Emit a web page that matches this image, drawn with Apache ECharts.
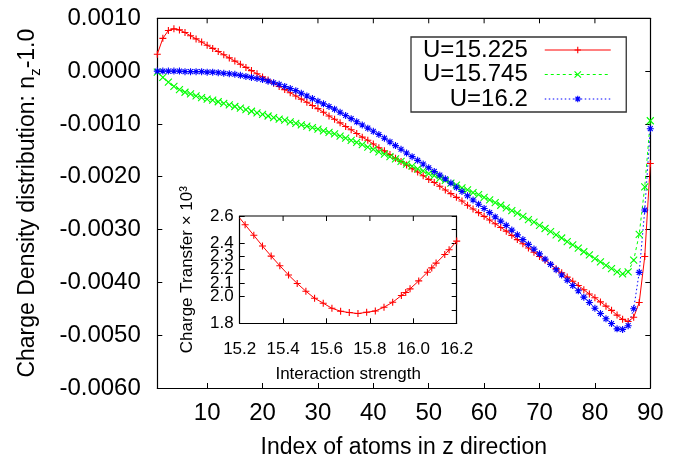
<!DOCTYPE html>
<html>
<head>
<meta charset="utf-8">
<script src="https://cdn.jsdelivr.net/npm/echarts@6/dist/echarts.min.js"></script>
<style>html,body{margin:0;padding:0;background:#fff}#c{width:683px;height:462px}</style>
</head>
<body>
<div id="c"></div>
<script>
// Main chart: atom index along z, and n_z - 1.0 in units of 1e-3
const atomIndex = [1,2,3,4,5,6,7,8,9,10,11,12,13,14,15,16,17,18,19,20,21,22,23,24,25,26,27,28,29,30,
31,32,33,34,35,36,37,38,39,40,41,42,43,44,45,46,47,48,49,50,51,52,53,54,55,56,57,58,59,60,
61,62,63,64,65,66,67,68,69,70,71,72,73,74,75,76,77,78,79,80,81,82,83,84,85,86,87,88,89,90];
const seriesNames = ['U=15.225', 'U=15.745', 'U=16.2'];
const u15225 = [0.32,0.62,0.77,0.80,0.78,0.73,0.67,0.61,0.55,0.49,0.43,0.37,0.31,0.25,0.19,0.13,0.07,0.01,-0.05,-0.11,
-0.17,-0.23,-0.29,-0.35,-0.41,-0.47,-0.53,-0.59,-0.65,-0.71,-0.78,-0.85,-0.91,-0.98,-1.05,-1.11,-1.18,-1.25,-1.31,-1.38,
-1.45,-1.51,-1.58,-1.65,-1.71,-1.78,-1.85,-1.91,-1.98,-2.05,-2.11,-2.18,-2.25,-2.32,-2.39,-2.46,-2.54,-2.61,-2.68,-2.75,
-2.82,-2.89,-2.96,-3.03,-3.11,-3.19,-3.27,-3.35,-3.43,-3.51,-3.58,-3.66,-3.74,-3.82,-3.90,-3.98,-4.06,-4.14,-4.22,-4.29,
-4.37,-4.45,-4.53,-4.62,-4.70,-4.74,-4.66,-4.38,-3.51,-1.75];
const u15745 = [-0.02,-0.12,-0.21,-0.29,-0.35,-0.40,-0.43,-0.47,-0.50,-0.53,-0.55,-0.58,-0.61,-0.64,-0.67,-0.70,-0.73,-0.76,-0.79,-0.82,
-0.85,-0.88,-0.91,-0.93,-0.96,-0.99,-1.02,-1.04,-1.07,-1.10,-1.13,-1.16,-1.19,-1.23,-1.27,-1.31,-1.35,-1.39,-1.44,-1.48,
-1.53,-1.57,-1.62,-1.66,-1.71,-1.76,-1.80,-1.85,-1.89,-1.94,-1.98,-2.03,-2.07,-2.12,-2.16,-2.21,-2.25,-2.30,-2.34,-2.39,
-2.44,-2.49,-2.54,-2.59,-2.64,-2.69,-2.75,-2.81,-2.86,-2.92,-2.98,-3.04,-3.10,-3.16,-3.23,-3.29,-3.35,-3.42,-3.48,-3.55,
-3.61,-3.68,-3.74,-3.80,-3.84,-3.80,-3.58,-3.09,-2.19,-0.94];
const u162 = [0.00,0.00,0.00,0.00,0.00,-0.01,-0.01,-0.01,-0.01,-0.02,-0.02,-0.03,-0.04,-0.05,-0.06,-0.08,-0.10,-0.12,-0.14,-0.16,
-0.19,-0.22,-0.25,-0.29,-0.33,-0.37,-0.42,-0.47,-0.52,-0.57,-0.62,-0.67,-0.72,-0.78,-0.84,-0.90,-0.96,-1.02,-1.08,-1.14,
-1.20,-1.27,-1.34,-1.41,-1.48,-1.55,-1.62,-1.69,-1.76,-1.83,-1.90,-1.97,-2.04,-2.12,-2.20,-2.28,-2.36,-2.44,-2.52,-2.60,
-2.68,-2.76,-2.84,-2.92,-3.01,-3.10,-3.19,-3.28,-3.37,-3.46,-3.56,-3.66,-3.76,-3.86,-3.96,-4.06,-4.16,-4.28,-4.38,-4.49,
-4.59,-4.69,-4.78,-4.88,-4.89,-4.82,-4.50,-3.81,-2.63,-1.09];

// Inset: interaction strength U vs charge transfer (x 1e3)
const insetU = [15.225,15.265,15.305,15.345,15.385,15.425,15.465,15.505,15.545,15.585,15.625,15.665,15.705,15.745,
15.785,15.825,15.865,15.905,15.945,15.965,15.985,16.025,16.065,16.085,16.105,16.145,16.165,16.2];
const insetCT = [2.535,2.456,2.376,2.301,2.229,2.160,2.097,2.039,1.987,1.950,1.912,1.890,1.880,1.873,
1.882,1.892,1.920,1.957,2.007,2.030,2.057,2.116,2.181,2.213,2.249,2.313,2.348,2.413];
const insetLineStart = [15.2, 2.585];

const yTicks = [-6,-5,-4,-3,-2,-1,0,1];
const mainXTicks = [10,20,30,40,50,60,70,80];
const insetXTicks = [15.4,15.6,15.8,16.0];

const FONT = 'Liberation Sans';
const RED = '#ff0000', GREEN = '#00ff00', BLUE = '#0000ff';
const SYM_PLUS = 'path://M0,5L10,5M5,0L5,10';
const SYM_CROSS = 'path://M0,0L10,10M10,0L0,10';
const SYM_STAR = 'path://M0,5L10,5M5,0L5,10M1.5,1.5L8.5,8.5M8.5,1.5L1.5,8.5';
const seriesColors = [RED, GREEN, BLUE];

function pairs(xs, ys) { return xs.map((x, i) => [x, ys[i]]); }

const chart = echarts.init(document.getElementById('c'), null, {renderer: 'canvas'});

function axLine() { return {show: true, onZero: false, lineStyle: {color: '#000', width: 1.2}}; }
function tickIn() { return {show: true, inside: true, length: 5, lineStyle: {color: '#000', width: 1}}; }

function mainSeries(name, data, color, sym, dash) {
  return {
    name: name, type: 'line', xAxisIndex: 0, yAxisIndex: 0,
    data: pairs(atomIndex, data),
    symbol: sym, symbolSize: 7, showSymbol: true, showAllSymbol: true,
    color: color,
    lineStyle: {color: color, width: 1, type: dash},
    itemStyle: {color: 'rgba(0,0,0,0)', borderColor: color, borderWidth: 1.1},
    emphasis: {disabled: true}, animation: false, z: 3
  };
}

const option = {
  animation: false,
  backgroundColor: '#fff',
  textStyle: {fontFamily: FONT},
  grid: [
    {left: 157.3, top: 18.3, width: 493, height: 369.7, containLabel: false, outerBoundsMode: 'none'},
    {left: 239.7, top: 216, width: 217, height: 107.3, containLabel: false, outerBoundsMode: 'none'}
  ],
  legend: {
    data: seriesNames.map((n, i) => ({
      name: n,
      itemStyle: {color: 'rgba(0,0,0,0)', borderColor: seriesColors[i], borderWidth: 1.1}
    })),
    orient: 'vertical',
    left: 411, top: 37,
    align: 'right',
    itemWidth: 66, itemHeight: 8, itemGap: 0.5,
    padding: [1, 15, 1, 0],
    borderColor: '#333', borderWidth: 1.3,
    backgroundColor: '#fff',
    lineStyle: {width: 1},
    textStyle: {fontFamily: FONT, fontSize: 24, color: '#000', lineHeight: 24, padding: [0, 12, 0, 12]},
    selectedMode: false,
    z: 10
  },
  xAxis: [
    {type: 'value', gridIndex: 0, position: 'bottom', min: 1, max: 90, splitNumber: 9,
     axisLine: axLine(), axisTick: tickIn(), splitLine: {show: false},
     axisLabel: {fontFamily: FONT, fontSize: 24, color: '#000', margin: 13,
       formatter: v => (v % 10 === 0 ? String(v) : '')},
     name: 'Index of atoms in z direction', nameLocation: 'middle', nameGap: 48,
     nameTextStyle: {fontFamily: FONT, fontSize: 23, color: '#000'}},
    {type: 'value', gridIndex: 1, position: 'bottom', min: 15.2, max: 16.2, interval: 0.2,
     axisLine: axLine(), axisTick: tickIn(), splitLine: {show: false},
     axisLabel: {fontFamily: FONT, fontSize: 17, color: '#000', margin: 18, showMinLabel: true, showMaxLabel: true,
       formatter: v => v.toFixed(1)},
     name: 'Interaction strength', nameLocation: 'middle', nameGap: 43,
     nameTextStyle: {fontFamily: FONT, fontSize: 17, color: '#000'}}
  ],
  yAxis: [
    {type: 'value', gridIndex: 0, position: 'left', min: -6, max: 1, interval: 1,
     axisLine: axLine(), axisTick: tickIn(), splitLine: {show: false},
     axisLabel: {fontFamily: FONT, fontSize: 24, color: '#000', margin: 16.5,
       formatter: v => (yTicks.indexOf(v) >= 0 ? (v / 1000).toFixed(4) : '')},
     name: '{m|Charge Density distribution: n}{s|z}{m|-1.0}', nameLocation: 'middle', nameGap: 114,
     nameTextStyle: {fontFamily: FONT, fontSize: 23, color: '#000',
       rich: {m: {fontFamily: FONT, fontSize: 23, color: '#000', verticalAlign: 'middle'},
              s: {fontFamily: FONT, fontSize: 15, color: '#000', verticalAlign: 'bottom', lineHeight: 32}}}},
    {type: 'value', gridIndex: 0, position: 'right', min: -6, max: 1, interval: 1,
     axisLine: axLine(), axisTick: tickIn(), splitLine: {show: false}, axisLabel: {show: false}},
    {type: 'value', gridIndex: 1, position: 'left', min: 1.8, max: 2.6, interval: 0.1,
     axisLine: axLine(), axisTick: tickIn(), splitLine: {show: false},
     axisLabel: {fontFamily: FONT, fontSize: 17, color: '#000', margin: 6, showMinLabel: true, showMaxLabel: true,
       hideOverlap: false, formatter: v => v.toFixed(1)},
     name: 'Charge Transfer × 10³', nameLocation: 'middle', nameGap: 44,
     nameTextStyle: {fontFamily: FONT, fontSize: 17, color: '#000'}},
    {type: 'value', gridIndex: 1, position: 'right', min: 1.8, max: 2.6, interval: 0.1,
     axisLine: axLine(), axisTick: tickIn(), splitLine: {show: false}, axisLabel: {show: false}}
  ],
  series: [
    mainSeries(seriesNames[0], u15225, RED, SYM_PLUS, 'solid'),
    mainSeries(seriesNames[1], u15745, GREEN, SYM_CROSS, [3, 3]),
    mainSeries(seriesNames[2], u162, BLUE, SYM_STAR, [1.5, 2.5]),
    {
      name: 'inset', type: 'line', xAxisIndex: 1, yAxisIndex: 2,
      data: [insetLineStart].concat(pairs(insetU, insetCT)),
      symbol: SYM_PLUS, symbolSize: 7, showAllSymbol: true,
      color: RED,
      lineStyle: {color: RED, width: 1},
      itemStyle: {color: 'rgba(0,0,0,0)', borderColor: RED, borderWidth: 1.1},
      emphasis: {disabled: true}, z: 6
    }
  ]
};
// hide marker on the line-start point of the inset curve
option.series[3].data[0] = {value: insetLineStart, symbol: 'none'};
chart.setOption(option);

// Top frame edges with mirrored inward ticks, placed through the library's own scales
function topFrame(finder, xMin, xMax, yTop, ticks) {
  const a = chart.convertToPixel(finder, [xMin, yTop]);
  const b = chart.convertToPixel(finder, [xMax, yTop]);
  const els = [{type: 'line', z: 100, silent: true,
    shape: {x1: a[0], y1: a[1], x2: b[0], y2: b[1]}, style: {stroke: '#000', lineWidth: 1.2}}];
  ticks.forEach(t => {
    const p = chart.convertToPixel(finder, [t, yTop]);
    els.push({type: 'line', z: 100, silent: true,
      shape: {x1: p[0], y1: p[1], x2: p[0], y2: p[1] + 5}, style: {stroke: '#000', lineWidth: 1}});
  });
  return els;
}
chart.setOption({graphic: {elements:
  topFrame({xAxisIndex: 0, yAxisIndex: 0}, 1, 90, 1, mainXTicks)
    .concat(topFrame({xAxisIndex: 1, yAxisIndex: 2}, 15.2, 16.2, 2.6, insetXTicks))
}});
</script>
</body>
</html>
